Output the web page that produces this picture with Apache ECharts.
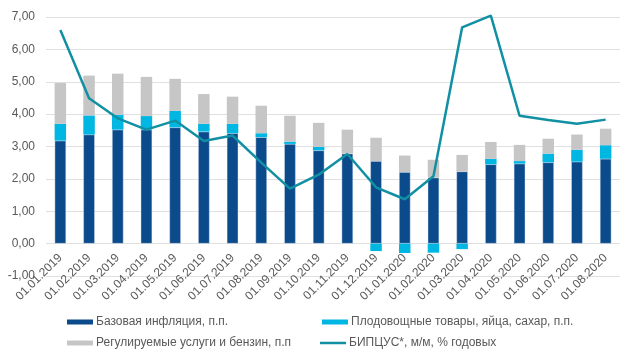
<!DOCTYPE html>
<html>
<head>
<meta charset="utf-8">
<script src="https://cdn.jsdelivr.net/npm/echarts@6/dist/echarts.min.js"></script>
<style>html,body{margin:0;padding:0;background:#fff}#c{width:637px;height:360px}</style>
</head>
<body>
<div id="c"></div>
<script>
var categories = ['01.01.2019','01.02.2019','01.03.2019','01.04.2019','01.05.2019','01.06.2019','01.07.2019','01.08.2019','01.09.2019','01.10.2019','01.11.2019','01.12.2019','01.01.2020','01.02.2020','01.03.2020','01.04.2020','01.05.2020','01.06.2020','01.07.2020','01.08.2020'];
var baseInfl = [3.18,3.37,3.52,3.52,3.59,3.46,3.41,3.29,3.08,2.88,2.78,2.55,2.21,2.04,2.23,2.45,2.47,2.51,2.53,2.62];
var fruitVeg = [0.52,0.59,0.46,0.42,0.51,0.24,0.29,0.12,0.07,0.11,0.00,-0.23,-0.29,-0.28,-0.17,0.17,0.08,0.27,0.37,0.42];
var regulated = [1.26,1.23,1.27,1.21,0.99,0.92,0.84,0.85,0.80,0.74,0.74,0.72,0.51,0.55,0.51,0.52,0.50,0.46,0.47,0.51];
var bipcus = [6.60,4.49,3.87,3.52,3.80,3.17,3.34,2.50,1.70,2.13,2.77,1.74,1.37,2.08,6.68,7.04,3.95,3.82,3.70,3.83];
var yMin = -1, yMax = 7, yStep = 1;
var names = ['Базовая инфляция, п.п.','Плодовощные товары, яйца, сахар, п.п.','Регулируемые услуги и бензин, п.п','БИПЦУС*, м/м, % годовых'];
var colors = ['#0b4a8b','#00b6e3','#c6c6c6','#1190a3'];

var chart = echarts.init(document.getElementById('c'));
var txt = {color:'#595959', fontSize:12, fontFamily:'Liberation Sans, Arial, sans-serif'};
function lg(i, left, top, h){
  return {data:[names[i]], left:left, top:top, padding:0, itemWidth:26, itemHeight:h, itemGap:0, icon:'rect',
    itemStyle:{borderWidth:0},
    textStyle:Object.assign({padding:[0,0,0,-2]}, txt), selectedMode:false};
}
chart.setOption({
  animation:false,
  grid:{left:46, right:17, top:17, bottom:84, containLabel:false},
  legend:[lg(0,67,316,5), lg(1,322,316,5), lg(2,67,337,5), lg(3,320,337,2.5)],
  xAxis:{type:'category', data:categories,
    axisLine:{show:false, onZero:false}, axisTick:{show:false},
    axisLabel:Object.assign({rotate:45, interval:0, margin:-20}, txt)},
  yAxis:{type:'value', min:yMin, max:yMax, interval:yStep,
    axisLine:{show:false}, axisTick:{show:false},
    splitLine:{lineStyle:{color:'#e0e0e0', width:1}},
    axisLabel:Object.assign({margin:11, formatter:function(v){return v.toFixed(2).replace('.',',');}}, txt)},
  series:[
    {name:names[0], type:'bar', stack:'a', data:baseInfl, barWidth:'40%', itemStyle:{color:colors[0], borderColor:'rgba(220,230,240,0.7)', borderWidth:0.6}},
    {name:names[1], type:'bar', stack:'a', data:fruitVeg, itemStyle:{color:colors[1]}},
    {name:names[2], type:'bar', stack:'a', data:regulated, itemStyle:{color:colors[2]}},
    {name:names[3], type:'line', data:bipcus, symbol:'none', clip:false, lineStyle:{width:2.5, color:colors[3]}, itemStyle:{color:colors[3]}, z:5}
  ]
});
</script>
</body>
</html>
